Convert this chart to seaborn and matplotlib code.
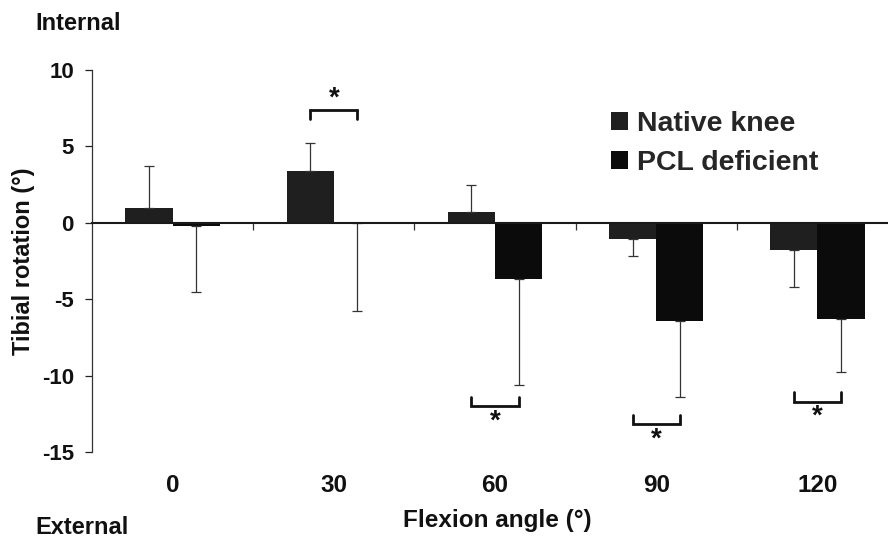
import matplotlib
matplotlib.use("Agg")
import matplotlib.pyplot as plt
import seaborn as sns
import pandas as pd
import numpy as np
from matplotlib.patches import Patch

# ---- data ----
angles = ["0", "30", "60", "90", "120"]
groups = ["Native knee", "PCL deficient"]
native_vals = [1.0, 3.4, 0.7, -1.05, -1.8]
native_sd = [2.7, 1.8, 1.8, 1.1, 2.4]
pcl_vals = [-0.2, 0.0, -3.7, -6.4, -6.3]
pcl_sd = [4.3, 5.75, 6.9, 5.0, 3.45]
# error bar direction: +1 up, -1 down
native_dir = [1, 1, 1, -1, -1]
pcl_dir = [-1, -1, -1, -1, -1]
# significance brackets
sig_idx = [1, 2, 3, 4]
sig_y = [7.4, -12.0, -13.2, -11.7]
sig_dir = [-1, 1, 1, 1]   # direction of bracket legs
yticks = [-15, -10, -5, 0, 5, 10]

colors = ["#1f1f1f", "#0b0b0b"]

df = pd.DataFrame({
    "angle": angles * 2,
    "group": [groups[0]] * 5 + [groups[1]] * 5,
    "value": native_vals + pcl_vals,
})

sns.set_theme(style="white")
plt.rcParams["font.family"] = ["Liberation Sans", "DejaVu Sans"]
plt.rcParams["font.weight"] = "bold"

fig = plt.figure(figsize=(8.88, 5.44), dpi=100)
ax = fig.add_axes([92 / 888, 1 - 452 / 544, 806 / 888, 382 / 544])

sns.barplot(data=df, x="angle", y="value", hue="group", order=angles,
            hue_order=groups, palette=colors, width=0.585, ax=ax,
            errorbar=None, saturation=1, linewidth=0, legend=False)

n = len(angles)
series = [(native_vals, native_sd, native_dir), (pcl_vals, pcl_sd, pcl_dir)]
patch_list = list(ax.patches)[: 2 * n]
xc = np.array([p.get_x() + p.get_width() / 2 for p in patch_list]).reshape(2, n)
for s, (vals, sd, dr) in enumerate(series):
    vals = np.array(vals); sd = np.array(sd); dr = np.array(dr)
    lower = np.where(dr < 0, sd, 0)
    upper = np.where(dr > 0, sd, 0)
    ax.errorbar(xc[s], vals, yerr=[lower, upper], fmt="none",
                ecolor="#333333", elinewidth=0.9, capsize=3.6, capthick=0.9,
                zorder=1)

# significance brackets
leg = 0.6
for i, y, d in zip(sig_idx, sig_y, sig_dir):
    x0, x1 = xc[0][i], xc[1][i]
    ax.plot([x0, x0, x1, x1], [y + d * leg, y, y, y + d * leg],
            color="#111111", lw=2.0, solid_joinstyle="miter", zorder=3)
    if d < 0:
        ax.text((x0 + x1) / 2, y - 0.15, "*", ha="center", va="bottom",
                fontsize=20, fontweight="bold", color="#111111")
    else:
        ax.text((x0 + x1) / 2, y - 0.15, "*", ha="center", va="top",
                fontsize=20, fontweight="bold", color="#111111")

ax.set_ylim(-15, 10)
ax.set_xlim(-0.5, n - 0.5)
ax.set_yticks(yticks)
ax.set_yticklabels([str(t) for t in yticks], fontsize=16, fontweight="bold")
ax.tick_params(axis="y", direction="out", length=5, width=0.9, colors="#222222",
               labelcolor="#111111", pad=8, left=True)

# zero line as bottom spine with boundary ticks
for sp in ["top", "right"]:
    ax.spines[sp].set_visible(False)
ax.spines["left"].set_color("#333333")
ax.spines["left"].set_linewidth(0.9)
ax.spines["bottom"].set_position(("data", 0))
ax.spines["bottom"].set_color("#1a1a1a")
ax.spines["bottom"].set_linewidth(1.5)
ax.set_xticks(np.arange(n - 1) + 0.5)
ax.set_xticklabels([])
ax.tick_params(axis="x", direction="out", length=5, width=0.9, colors="#333333",
               bottom=True)
ax.set_xlabel("")

sec = ax.secondary_xaxis("bottom")
sec.set_xticks(range(n))
sec.set_xticklabels(angles, fontsize=17.5, fontweight="bold", color="#111111")
sec.tick_params(length=0, pad=16)
sec.spines["bottom"].set_visible(False)

ax.set_ylabel("Tibial rotation (°)", fontsize=17, fontweight="bold",
              color="#111111", labelpad=5)

fig.text(497 / 888, 1 - 520 / 544, "Flexion angle (°)", ha="center", va="center",
         fontsize=17.5, fontweight="bold", color="#111111")
fig.text(35 / 888, 1 - 23 / 544, "Internal", ha="left", va="center",
         fontsize=17, fontweight="bold", color="#111111")
fig.text(35 / 888, 1 - 527 / 544, "External", ha="left", va="center",
         fontsize=17, fontweight="bold", color="#111111")

handles = [Patch(facecolor=c, edgecolor="none") for c in colors]
ax.legend(handles, groups, loc="upper left", bbox_to_anchor=(611 / 888, 1 - 111 / 544),
          bbox_transform=fig.transFigure, frameon=False,
          prop={"size": 20.5, "weight": "bold"}, handlelength=0.6, handleheight=0.6,
          handletextpad=0.3, labelspacing=0.45, borderpad=0, borderaxespad=0)

fig.savefig("out.png", dpi=100)
